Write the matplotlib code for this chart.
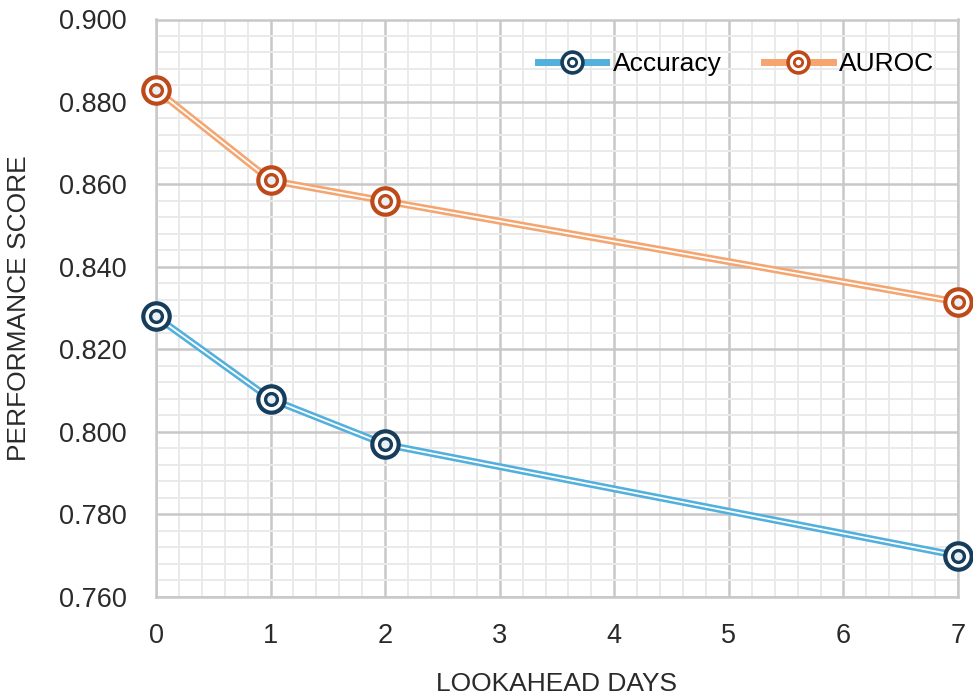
import numpy as np
import matplotlib.pyplot as plt
from matplotlib.ticker import MultipleLocator, FormatStrFormatter
from matplotlib.legend_handler import HandlerTuple

days = [0, 1, 2, 7]
accuracy = [0.828, 0.808, 0.797, 0.770]
auroc = [0.883, 0.861, 0.856, 0.8315]

series = [
    ("Accuracy", accuracy, "#52B0DD", "#163E5C"),
    ("AUROC", auroc, "#F4A570", "#BE4A1A"),
]

plt.rcParams['font.family'] = ['Liberation Sans', 'DejaVu Sans']

fig = plt.figure(figsize=(9.73, 6.99), dpi=100)
ax = fig.add_axes([156 / 973, 1 - 597 / 699, (958 - 156) / 973, (597 - 19.5) / 699])

ax.set_xlim(0, 7)
ax.set_ylim(0.760, 0.900)
ax.xaxis.set_major_locator(MultipleLocator(1))
ax.xaxis.set_minor_locator(MultipleLocator(0.2))
ax.yaxis.set_major_locator(MultipleLocator(0.02))
ax.yaxis.set_minor_locator(MultipleLocator(0.004))
ax.yaxis.set_major_formatter(FormatStrFormatter('%.3f'))

# excel-style grid: light minor grid over grey major grid
ax.grid(which='major', color='#C8C8C8', lw=1.8, zorder=0)
ax.grid(which='minor', color='#EAEAEA', lw=1.4, zorder=0)
ax.set_axisbelow(True)
for s in ax.spines.values():
    s.set_color('#C8C8C8')
    s.set_linewidth(1.8)

ax.tick_params(which='both', length=0)
ax.tick_params(axis='both', labelsize=19.5, colors='#2A2A2A')
ax.tick_params(axis='x', pad=19)
ax.tick_params(axis='y', pad=21)

handles = []
for name, vals, light, dark in series:
    ax.plot(days, vals, color=light, lw=5, zorder=3, solid_capstyle='butt', clip_on=False)
    ax.plot(days, vals, color='white', lw=1.3, zorder=4, clip_on=False)
    ax.plot(days, vals, ls='none', marker='o', ms=19, mfc='white', mec=dark, mew=3,
            zorder=5, clip_on=False)
    ax.plot(days, vals, ls='none', marker='o', ms=8.5, mfc='#E8F0F4', mec=dark, mew=2.4,
            zorder=6, clip_on=False)
    outer, = ax.plot([], [], color=light, lw=5, marker='o', ms=15, mfc='white', mec=dark, mew=2.6)
    inner, = ax.plot([], [], ls='none', marker='o', ms=6, mfc='white', mec=dark, mew=2)
    handles.append((outer, inner))

ax.legend(handles, [s[0] for s in series], ncol=2, frameon=False, loc='upper right',
          bbox_to_anchor=(1.0, 0.985), fontsize=19, handlelength=2.6, columnspacing=1.6,
          handletextpad=0.25, handler_map={tuple: HandlerTuple(ndivide=1, pad=0)})

ax.set_xlabel("LOOKAHEAD DAYS", fontsize=19, color='#2A2A2A', labelpad=16)
ax.set_ylabel("PERFORMANCE SCORE", fontsize=19, color='#2A2A2A', labelpad=20)

fig.savefig("out.png", dpi=100)
